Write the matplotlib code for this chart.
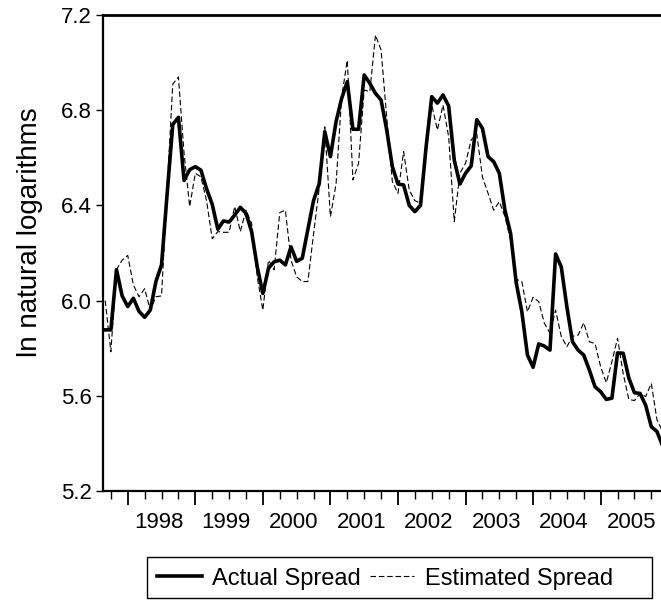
import numpy as np
import pandas as pd
import matplotlib
matplotlib.use("Agg")
import matplotlib.pyplot as plt
from matplotlib.patches import Rectangle

plt.rcParams["font.family"] = ["Liberation Sans", "DejaVu Sans"]

# monthly observations, 1997M09 onwards
start = "1997-09"
actual = [5.877, 5.877, 6.13, 6.02, 5.975, 6.01, 5.955, 5.93, 5.96, 6.08,
          6.15, 6.45, 6.74, 6.77, 6.505, 6.55, 6.563, 6.548, 6.47, 6.405,
          6.30, 6.335, 6.33, 6.36, 6.392, 6.367, 6.29, 6.142, 6.03, 6.136,
          6.163, 6.17, 6.15, 6.226, 6.165, 6.178, 6.30, 6.42, 6.49, 6.71,
          6.605, 6.752, 6.85, 6.92, 6.72, 6.72, 6.948, 6.913, 6.871, 6.843,
          6.717, 6.563, 6.49, 6.486, 6.40, 6.374, 6.40, 6.647, 6.857, 6.83,
          6.864, 6.818, 6.59, 6.49, 6.535, 6.566, 6.76, 6.724, 6.605, 6.584,
          6.535, 6.38, 6.283, 6.075, 5.953, 5.771, 5.72, 5.818, 5.809, 5.792,
          6.196, 6.142, 5.974, 5.827, 5.792, 5.771, 5.708, 5.638, 5.617, 5.585,
          5.59, 5.78, 5.779, 5.675, 5.613, 5.61, 5.56, 5.47, 5.45, 5.39]
estimated = [6.0, 5.785, 6.13, 6.17, 6.19, 6.066, 6.016, 6.05, 5.96, 6.016,
             6.02, 6.47, 6.91, 6.94, 6.62, 6.395, 6.535, 6.52, 6.42, 6.26,
             6.29, 6.287, 6.287, 6.395, 6.29, 6.38, 6.325, 6.10, 5.96, 6.17,
             6.13, 6.37, 6.38, 6.17, 6.10, 6.08, 6.08, 6.28, 6.47, 6.73,
             6.353, 6.49, 6.857, 7.01, 6.507, 6.577, 6.885, 6.878, 7.116, 7.053,
             6.77, 6.50, 6.451, 6.626, 6.465, 6.42, 6.409, 6.63, 6.822, 6.717,
             6.822, 6.689, 6.332, 6.535, 6.577, 6.675, 6.70, 6.52, 6.451, 6.38,
             6.416, 6.353, 6.255, 6.09, 6.08, 5.953, 6.014, 5.996, 5.905, 5.863,
             5.96, 5.85, 5.806, 5.85, 5.855, 5.907, 5.827, 5.82, 5.722, 5.655,
             5.743, 5.842, 5.694, 5.585, 5.58, 5.61, 5.597, 5.652, 5.50, 5.45]
yticks = [5.2, 5.6, 6.0, 6.4, 6.8, 7.2]

months = pd.period_range(start, periods=len(actual), freq="M")
x = np.arange(len(months))
quarter_idx = x[np.isin(months.month, [1, 4, 7, 10])]
year_idx = x[months.month == 1]
years = months.year[months.month == 1]

W, H = 661, 604
fig = plt.figure(figsize=(W / 100, H / 100), dpi=100)
ax = fig.add_axes([0.1563, 0.1871, 0.8437, 0.788])

ax.plot(x, actual, color="black", lw=2.6, solid_joinstyle="round",
        label="Actual Spread")
ax.plot(x, estimated, color="black", lw=0.8, dashes=(5, 2.5),
        label="Estimated Spread")

ax.set_xlim(-0.34, 98.72)
ax.set_ylim(5.2, 7.2)
ax.set_yticks(yticks)
ax.set_yticklabels([f"{v:.1f}" for v in yticks])

ax.set_xticks(year_idx)
ax.set_xticklabels([])
ax.set_xticks(quarter_idx, minor=True)
ax.tick_params(axis="x", which="major", length=10, width=1.3, direction="out")
ax.tick_params(axis="x", which="minor", length=5.5, width=1.0, direction="out")
ax.tick_params(axis="y", length=5, width=1.0, direction="out",
               labelsize=16, pad=3)

# year labels sit in the middle of each year
for yi, yr in zip(year_idx, years):
    ax.text(yi + 5.5, -0.045, str(yr), transform=ax.get_xaxis_transform(),
            ha="center", va="top", fontsize=16)

ax.spines["right"].set_visible(False)
ax.spines["left"].set_linewidth(1.6)
ax.spines["bottom"].set_linewidth(1.6)
ax.spines["top"].set_linewidth(2.0)

ax.set_ylabel("ln natural logarithms", fontsize=20)
ax.yaxis.set_label_coords(-0.108, 0.544)

# legend entries without their own frame, box drawn separately
leg = fig.legend(loc="center left", bbox_to_anchor=(157 / W, 1 - 578.5 / H),
                 ncol=2, fontsize=17, frameon=False, handlelength=1.9,
                 handletextpad=0.45, columnspacing=0.35, borderpad=0,
                 borderaxespad=0)
fig.add_artist(Rectangle((147 / W, 1 - 598 / H), 505 / W, 41 / H,
                         transform=fig.transFigure, fill=False,
                         edgecolor="black", lw=1.0))

fig.savefig("out.png", dpi=100)
